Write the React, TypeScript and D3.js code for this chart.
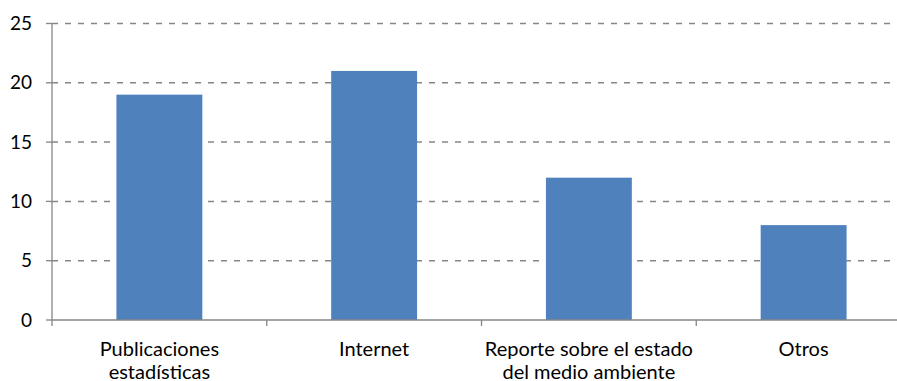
import React from "react";
import * as d3 from "d3";

const categories: string[][] = [
  ["Publicaciones", "estadísticas"],
  ["Internet"],
  ["Reporte sobre el estado", "del medio ambiente"],
  ["Otros"],
];
const values: number[] = [19, 21, 12, 8];
const yTicks: number[] = [0, 5, 10, 15, 20, 25];

const W = 897;
const H = 381;
const left = 52;
const right = 911;
const top = 23.5;
const bottom = 320;
const font = "Lato, 'Open Sans', sans-serif";
const grey = "#868686";

export default function App() {
  const keys = categories.map((_, i) => String(i));
  const x = d3.scaleBand<string>().domain(keys).range([left, right]).padding(0);
  const y = d3.scaleLinear().domain([0, 25]).range([bottom, top]);
  const bw = x.bandwidth() * 0.4;

  return (
    <svg width={W} height={H} style={{ position: "absolute", left: 0, top: 0 }}>
      <rect width={W} height={H} fill="#fff" />
      {yTicks.filter((t) => t > 0).map((t) => (
        <line key={"g" + t} x1={left} x2={right} y1={y(t)} y2={y(t)}
          stroke={grey} strokeWidth={1.5} strokeDasharray="6,7" />
      ))}
      {values.map((v, i) => {
        const cx = (x(String(i)) as number) + x.bandwidth() / 2;
        return (
          <rect key={"b" + i} x={cx - bw / 2} y={y(v)} width={bw} height={y(0) - y(v)} fill="#4F81BD" />
        );
      })}
      <line x1={left} x2={left} y1={top} y2={bottom + 6} stroke={grey} strokeWidth={1.3} />
      <line x1={left} x2={right} y1={bottom} y2={bottom} stroke={grey} strokeWidth={1.3} />
      {yTicks.map((t) => (
        <g key={"t" + t}>
          <line x1={left - 6} x2={left} y1={y(t)} y2={y(t)} stroke={grey} strokeWidth={1.3} />
          <text x={32} y={y(t)} dy="0.35em" textAnchor="end" fontFamily={font} fontSize={19} fill="#000">{t}</text>
        </g>
      ))}
      {keys.map((k) => (
        <line key={"c" + k} x1={(x(k) as number) + x.bandwidth()} x2={(x(k) as number) + x.bandwidth()}
          y1={bottom} y2={bottom + 6} stroke={grey} strokeWidth={1.3} />
      ))}
      {categories.map((lines, i) => {
        const cx = (x(String(i)) as number) + x.bandwidth() / 2;
        return (
          <text key={"l" + i} x={cx} y={355.5} textAnchor="middle" fontFamily={font} fontSize={20} fill="#000">
            {lines.map((ln, j) => (
              <tspan key={j} x={cx} dy={j === 0 ? 0 : 23.5}>{ln}</tspan>
            ))}
          </text>
        );
      })}
    </svg>
  );
}
